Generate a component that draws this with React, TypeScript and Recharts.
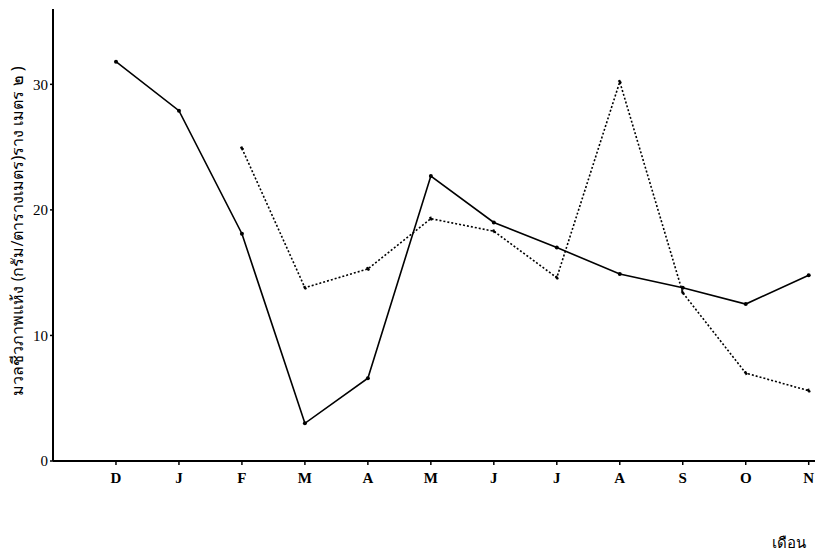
import React from "react";
import { LineChart, Line, XAxis, YAxis } from "recharts";

const months = ["D", "J", "F", "M", "A", "M", "J", "J", "A", "S", "O", "N"];
const solidSeries = [31.8, 27.9, 18.1, 3.0, 6.6, 22.7, 19.0, 17.0, 14.9, 13.8, 12.5, 14.8];
const dottedSeries = [null, null, 24.9, 13.8, 15.3, 19.3, 18.3, 14.6, 30.2, 13.4, 7.0, 5.6];
const yTicks = [0, 10, 20, 30];
const yLabel = "มวลชีวภาพแห้ง (กรัม/ตารางเมตร)ราง เมตร ๒ )";
const xLabel = "เดือน";

const data = months.map((m, i) => ({
  idx: i + 1,
  month: m,
  solid: solidSeries[i],
  dotted: dottedSeries[i],
}));

export default function App() {
  return (
    <div style={{ position: "absolute", left: 0, top: 0, width: 815, height: 556, background: "#fff" }}>
      <LineChart
        width={815}
        height={556}
        data={data}
        margin={{ top: 9, right: 0, bottom: 0, left: 0 }}
      >
        <XAxis
          dataKey="idx"
          type="number"
          domain={[0, 12.1]}
          ticks={[1, 2, 3, 4, 5, 6, 7, 8, 9, 10, 11, 12]}
          tickFormatter={(v: number) => months[v - 1]}
          height={95}
          tickSize={4}
          tickMargin={7}
          axisLine={{ stroke: "#000", strokeWidth: 2 }}
          tickLine={{ stroke: "#000", strokeWidth: 1.5 }}
          tick={{ fill: "#000", fontFamily: "Liberation Serif, serif", fontSize: 15, fontWeight: 700 }}
          interval={0}
        />
        <YAxis
          type="number"
          domain={[0, 36]}
          ticks={yTicks}
          width={53}
          tickSize={3}
          tickMargin={2}
          axisLine={{ stroke: "#000", strokeWidth: 2 }}
          tickLine={{ stroke: "#000", strokeWidth: 1.5 }}
          tick={{ fill: "#000", fontFamily: "Liberation Serif, serif", fontSize: 15 }}
          label={{
            value: yLabel,
            angle: -90,
            position: "center",
            dx: -9,
            dy: -4,
            style: { fill: "#000", fontFamily: "Noto Sans, sans-serif", fontSize: 16, textAnchor: "middle" },
          }}
        />
        <Line
          type="linear"
          dataKey="dotted"
          stroke="#000"
          strokeWidth={1.6}
          strokeDasharray="2 2"
          dot={{ r: 1.3, fill: "#000", stroke: "#000" }}
          connectNulls={false}
          isAnimationActive={false}
        />
        <Line
          type="linear"
          dataKey="solid"
          stroke="#000"
          strokeWidth={1.6}
          dot={{ r: 2, fill: "#000", stroke: "#000", strokeWidth: 0 }}
          isAnimationActive={false}
        />
      </LineChart>
      <div
        style={{
          position: "absolute",
          left: 772,
          top: 531,
          fontFamily: "Noto Sans, sans-serif",
          fontSize: 15,
          color: "#000",
          whiteSpace: "nowrap",
        }}
      >
        {xLabel}
      </div>
    </div>
  );
}
